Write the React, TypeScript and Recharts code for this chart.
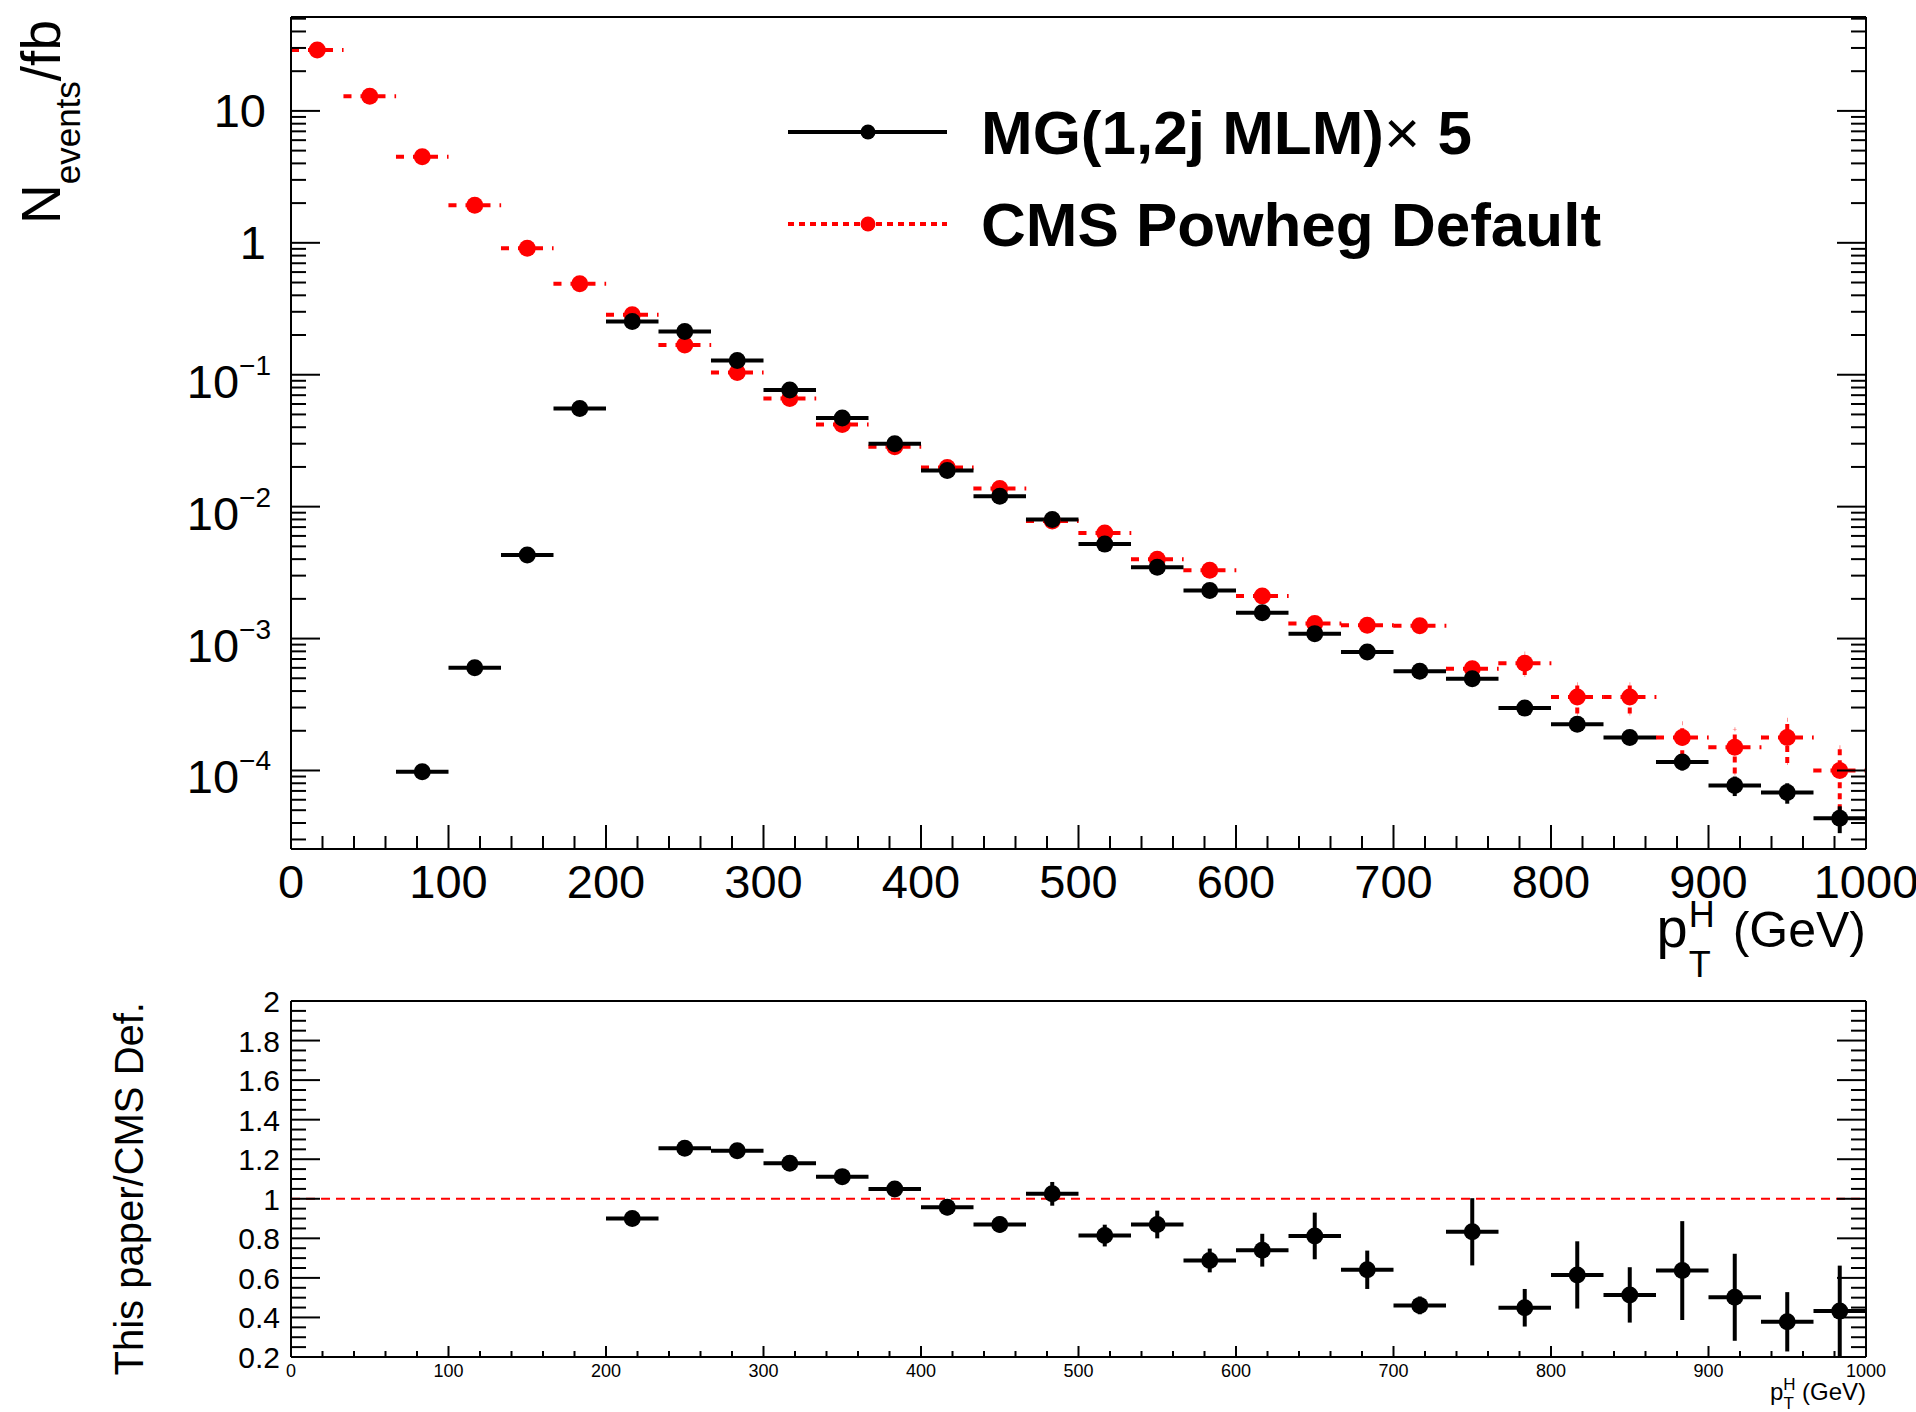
import React from "react";
import { ComposedChart, Scatter, ErrorBar, XAxis, YAxis, ReferenceLine } from "recharts";

const FONT = "'Liberation Sans', Arial, Helvetica, sans-serif";
const RED = "#ff0000";

// p_T^H bins, 30 bins of 33.3 GeV
const binCenters = [
  16.67, 50, 83.33, 116.67, 150, 183.33, 216.67, 250, 283.33, 316.67,
  350, 383.33, 416.67, 450, 483.33, 516.67, 550, 583.33, 616.67, 650,
  683.33, 716.67, 750, 783.33, 816.67, 850, 883.33, 916.67, 950, 983.33,
];
const binHalfWidth = 16.67;

// CMS Powheg Default (N events / fb)
const powhegValues = [
  29.0, 12.9, 4.5, 1.93, 0.91, 0.49, 0.285, 0.168, 0.104, 0.066,
  0.042, 0.0285, 0.0198, 0.0137, 0.0078, 0.0063, 0.004, 0.0033, 0.0021, 0.0013,
  0.00126, 0.00125, 0.00059, 0.00065, 0.00036, 0.00036, 0.000178, 0.00015, 0.000178, 0.0001,
];
const powhegErrors = [
  0.4, 0.2, 0.08, 0.04, 0.02, 0.012, 0.008, 0.005, 0.004, 0.0025,
  0.0018, 0.0013, 0.001, 0.0008, 0.0005, 0.0004, 0.0003, 0.00025, 0.00018, 0.00012,
  0.00012, 0.00012, 0.00007, 0.00012, 0.00009, 0.00009, 0.00005, 0.000055, 0.000064, 0.00005,
];

// MG(1,2j MLM) x 5
const mgValues = [
  null, null, 9.8e-5, 6.0e-4, 0.0043, 0.0555, 0.253, 0.213, 0.128, 0.0765,
  0.047, 0.03, 0.0188, 0.012, 0.008, 0.0052, 0.00347, 0.00231, 0.00157, 0.00109,
  0.00079, 0.000565, 0.000495, 0.000297, 0.000224, 0.000178, 0.000116, 7.7e-5, 6.8e-5, 4.35e-5,
];
const mgErrors = [
  null, null, 8e-6, 3e-5, 0.00015, 0.0015, 0.005, 0.004, 0.003, 0.002,
  0.0013, 0.0009, 0.0006, 0.0004, 0.0003, 0.0002, 0.00015, 0.0001, 0.00008, 0.00006,
  0.00005, 0.00004, 0.000035, 0.000027, 0.000022, 0.00002, 0.000016, 1.3e-5, 1.2e-5, 1e-5,
];

// This paper / CMS Def.
const ratioValues = [
  null, null, null, null, null, null, 0.9, 1.255, 1.243, 1.18,
  1.112, 1.05, 0.957, 0.87, 1.025, 0.814, 0.87, 0.688, 0.74, 0.812,
  0.641, 0.461, 0.833, 0.449, 0.615, 0.514, 0.637, 0.502, 0.378, 0.432,
];
const ratioErrors = [
  null, null, null, null, null, null, 0.025, 0.03, 0.03, 0.03,
  0.035, 0.04, 0.04, 0.04, 0.06, 0.055, 0.07, 0.06, 0.083, 0.118,
  0.097, 0.045, 0.17, 0.095, 0.17, 0.14, 0.25, 0.22, 0.15, 0.23,
];

const xMajorTicks = [0, 100, 200, 300, 400, 500, 600, 700, 800, 900, 1000];
const logMajorTicks = [1e-4, 1e-3, 1e-2, 0.1, 1, 10];
const ratioMajorTicks = [0.2, 0.4, 0.6, 0.8, 1, 1.2, 1.4, 1.6, 1.8, 2];

const topDomain: [number, number] = [2.54e-5, 51.5];
const ratioDomain: [number, number] = [0.2, 2];

// axis tick positions (majors + minors)
const xTicks: number[] = [];
for (let v = 0; v <= 1000; v += 20) xTicks.push(v);
const logTicks: number[] = [];
[1e-5, ...logMajorTicks].forEach((d) => {
  for (let m = 1; m <= 9; m++) {
    const v = Number((m * d).toPrecision(3));
    if (v >= topDomain[0] && v <= topDomain[1]) logTicks.push(v);
  }
});
const ratioTicks: number[] = [];
for (let i = 4; i <= 40; i++) ratioTicks.push(Math.round(i * 5) / 100);

const build = (vals: (number | null)[], errs: (number | null)[]) =>
  binCenters
    .map((x, i) => ({ x, y: vals[i], ex: binHalfWidth, ey: errs[i] }))
    .filter((d) => d.y !== null);

const powhegData = build(powhegValues, powhegErrors);
const mgData = build(mgValues, mgErrors);
const ratioData = build(ratioValues, ratioErrors);

const LINE = { stroke: "#000", strokeWidth: 2 };

const isXMajor = (v: number) => xMajorTicks.includes(v);
const isDecade = (v: number) => {
  const e = Math.log10(v);
  return Math.abs(e - Math.round(e)) < 1e-6;
};
const isRatioMajor = (v: number) => ratioMajorTicks.some((t) => Math.abs(t - v) < 1e-6);

const dot = (color: string) => (p: any) =>
  <circle cx={p.cx} cy={p.cy} r={8.5} fill={color} stroke="none" />;

// ---- top panel ticks
function TopBottomTick(props: any) {
  const { x, y, payload } = props;
  const major = isXMajor(payload.value);
  return (
    <g>
      <line x1={x} x2={x} y1={y} y2={y - (major ? 24 : 13)} {...LINE} />
      {major && (
        <text x={x} y={y + 49} textAnchor="middle" fontSize={47} fontFamily={FONT} fill="#000">
          {payload.value}
        </text>
      )}
    </g>
  );
}
function TopTopTick(props: any) {
  const { x, y, payload } = props;
  const major = isXMajor(payload.value);
  return <line x1={x} x2={x} y1={y} y2={y + (major ? 23 : 12)} {...LINE} />;
}
function LogLeftTick(props: any) {
  const { x, y, payload } = props;
  const v = payload.value;
  const major = isDecade(v);
  const e = Math.round(Math.log10(v));
  let label = null;
  if (major) {
    label =
      e >= 0 ? (
        <text x={x - 25} y={y + 16} textAnchor="end" fontSize={47} fontFamily={FONT} fill="#000">
          {e === 0 ? "1" : "10"}
        </text>
      ) : (
        <text x={x - 20} y={y + 23} textAnchor="end" fontSize={47} fontFamily={FONT} fill="#000">
          10
          <tspan fontSize={28} dy={-23}>
            {"\u2212" + -e}
          </tspan>
        </text>
      );
  }
  return (
    <g>
      <line x1={x} x2={x + (major ? 29 : 15)} y1={y} y2={y} {...LINE} />
      {label}
    </g>
  );
}
function LogRightTick(props: any) {
  const { x, y, payload } = props;
  const major = isDecade(payload.value);
  return <line x1={x} x2={x - (major ? 29 : 15)} y1={y} y2={y} {...LINE} />;
}

// ---- ratio panel ticks
function RatioBottomTick(props: any) {
  const { x, y, payload } = props;
  const major = isXMajor(payload.value);
  return (
    <g>
      <line x1={x} x2={x} y1={y} y2={y - (major ? 11 : 6)} {...LINE} />
      {major && (
        <text x={x} y={y + 20} textAnchor="middle" fontSize={18} fontFamily={FONT} fill="#000">
          {payload.value}
        </text>
      )}
    </g>
  );
}
function RatioTopTick(props: any) {
  const { x, y, payload } = props;
  const major = isXMajor(payload.value);
  return <line x1={x} x2={x} y1={y} y2={y + (major ? 12 : 5)} {...LINE} />;
}
function RatioLeftTick(props: any) {
  const { x, y, payload } = props;
  const major = isRatioMajor(payload.value);
  return (
    <g>
      <line x1={x} x2={x + (major ? 29 : 15)} y1={y} y2={y} {...LINE} />
      {major && (
        <text x={x - 11} y={y + 11} textAnchor="end" fontSize={30} fontFamily={FONT} fill="#000">
          {String(Math.round(payload.value * 10) / 10)}
        </text>
      )}
    </g>
  );
}
function RatioRightTick(props: any) {
  const { x, y, payload } = props;
  const major = isRatioMajor(payload.value);
  return <line x1={x} x2={x - (major ? 29 : 15)} y1={y} y2={y} {...LINE} />;
}

function Overlay() {
  return (
    <svg
      width={1916}
      height={1412}
      style={{ position: "absolute", left: 0, top: 0, pointerEvents: "none" }}
      fontFamily={FONT}
    >
      {/* legend */}
      <line x1={788} x2={947} y1={132} y2={132} stroke="#000" strokeWidth={4} />
      <circle cx={868} cy={132} r={7.5} fill="#000" />
      <text x={981} y={154} fontSize={62} fontWeight="bold" fill="#000">
        MG(1,2j MLM)<tspan fontWeight="normal">{"\u00d7"}</tspan> 5
      </text>
      <line x1={788} x2={947} y1={224} y2={224} stroke={RED} strokeWidth={4} strokeDasharray="6 5" />
      <circle cx={868} cy={224} r={7.5} fill={RED} />
      <text x={981} y={246} fontSize={62} fontWeight="bold" fill="#000">
        CMS Powheg Default
      </text>

      {/* top panel titles */}
      <text transform="rotate(-90 60 20)" x={60} y={20} textAnchor="end" fontSize={55} fill="#000">
        N
        <tspan fontSize={35} dy={20}>
          events
        </tspan>
        <tspan dy={-20}>/fb</tspan>
      </text>
      <text x={1866} y={947} textAnchor="end" fontSize={50} fill="#000">
        <tspan fontSize={56}>p</tspan>
        <tspan fontSize={36} dx={1} dy={-20}>
          H
        </tspan>
        <tspan fontSize={36} dx={-26} dy={50}>
          T
        </tspan>
        <tspan dx={22} dy={-30}>
          {"(GeV)"}
        </tspan>
      </text>

      {/* ratio panel titles */}
      <text transform="rotate(-90 143 1002)" x={143} y={1002} textAnchor="end" fontSize={40} fill="#000">
        This paper/CMS Def.
      </text>
      <text x={1866} y={1400} textAnchor="end" fontSize={24} fill="#000">
        p
        <tspan fontSize={17} dy={-10}>
          H
        </tspan>
        <tspan fontSize={17} dx={-12} dy={19}>
          T
        </tspan>
        <tspan dx={8} dy={-9}>
          {"(GeV)"}
        </tspan>
      </text>
    </svg>
  );
}

export default function App() {
  return (
    <div style={{ position: "absolute", left: 0, top: 0, width: 1916, height: 1412, background: "#fff" }}>
      <div style={{ position: "absolute", left: 0, top: 0 }}>
        <ComposedChart width={1916} height={960} margin={{ top: 0, right: 0, bottom: 0, left: 0 }}>
          <XAxis
            xAxisId="b"
            dataKey="x"
            type="number"
            domain={[0, 1000]}
            allowDataOverflow
            ticks={xTicks}
            interval={0}
            tickSize={0}
            tickMargin={0}
            tick={TopBottomTick}
            tickLine={false}
            height={111}
            axisLine={LINE}
          />
          <XAxis
            xAxisId="t"
            orientation="top"
            type="number"
            domain={[0, 1000]}
            allowDataOverflow
            ticks={xTicks}
            interval={0}
            tickSize={0}
            tickMargin={0}
            tick={TopTopTick}
            tickLine={false}
            height={17}
            axisLine={LINE}
          />
          <YAxis
            yAxisId="l"
            dataKey="y"
            type="number"
            scale="log"
            domain={topDomain}
            allowDataOverflow
            ticks={logTicks}
            interval={0}
            tickSize={0}
            tickMargin={0}
            tick={LogLeftTick}
            tickLine={false}
            width={291}
            axisLine={LINE}
          />
          <YAxis
            yAxisId="r"
            orientation="right"
            type="number"
            scale="log"
            domain={topDomain}
            allowDataOverflow
            ticks={logTicks}
            interval={0}
            tickSize={0}
            tickMargin={0}
            tick={LogRightTick}
            tickLine={false}
            width={50}
            axisLine={LINE}
          />
          <Scatter
            xAxisId="b"
            yAxisId="l"
            data={powhegData}
            fill={RED}
            shape={dot(RED)}
            isAnimationActive={false}
          >
            <ErrorBar dataKey="ex" direction="x" width={0} stroke={RED} strokeWidth={4} strokeDasharray="8 9" isAnimationActive={false} />
            <ErrorBar dataKey="ey" direction="y" width={0} stroke={RED} strokeWidth={4} strokeDasharray="6 5" isAnimationActive={false} />
          </Scatter>
          <Scatter
            xAxisId="b"
            yAxisId="l"
            data={mgData}
            fill="#000"
            shape={dot("#000")}
            isAnimationActive={false}
          >
            <ErrorBar dataKey="ex" direction="x" width={0} stroke="#000" strokeWidth={4} isAnimationActive={false} />
            <ErrorBar dataKey="ey" direction="y" width={0} stroke="#000" strokeWidth={4} isAnimationActive={false} />
          </Scatter>
        </ComposedChart>
      </div>

      <div style={{ position: "absolute", left: 0, top: 960 }}>
        <ComposedChart width={1916} height={452} margin={{ top: 0, right: 0, bottom: 0, left: 0 }}>
          <XAxis
            xAxisId="b"
            dataKey="x"
            type="number"
            domain={[0, 1000]}
            allowDataOverflow
            ticks={xTicks}
            interval={0}
            tickSize={0}
            tickMargin={0}
            tick={RatioBottomTick}
            tickLine={false}
            height={55}
            axisLine={LINE}
          />
          <XAxis
            xAxisId="t"
            orientation="top"
            type="number"
            domain={[0, 1000]}
            allowDataOverflow
            ticks={xTicks}
            interval={0}
            tickSize={0}
            tickMargin={0}
            tick={RatioTopTick}
            tickLine={false}
            height={41}
            axisLine={LINE}
          />
          <YAxis
            yAxisId="l"
            dataKey="y"
            type="number"
            domain={ratioDomain}
            allowDataOverflow
            ticks={ratioTicks}
            interval={0}
            tickSize={0}
            tickMargin={0}
            tick={RatioLeftTick}
            tickLine={false}
            width={291}
            axisLine={LINE}
          />
          <YAxis
            yAxisId="r"
            orientation="right"
            type="number"
            domain={ratioDomain}
            allowDataOverflow
            ticks={ratioTicks}
            interval={0}
            tickSize={0}
            tickMargin={0}
            tick={RatioRightTick}
            tickLine={false}
            width={50}
            axisLine={LINE}
          />
          <ReferenceLine xAxisId="b" yAxisId="l" y={1} stroke={RED} strokeWidth={2} strokeDasharray="9 6" />
          <Scatter
            xAxisId="b"
            yAxisId="l"
            data={ratioData}
            fill="#000"
            shape={dot("#000")}
            isAnimationActive={false}
          >
            <ErrorBar dataKey="ex" direction="x" width={0} stroke="#000" strokeWidth={4} isAnimationActive={false} />
            <ErrorBar dataKey="ey" direction="y" width={0} stroke="#000" strokeWidth={4} isAnimationActive={false} />
          </Scatter>
        </ComposedChart>
      </div>

      <Overlay />
    </div>
  );
}
